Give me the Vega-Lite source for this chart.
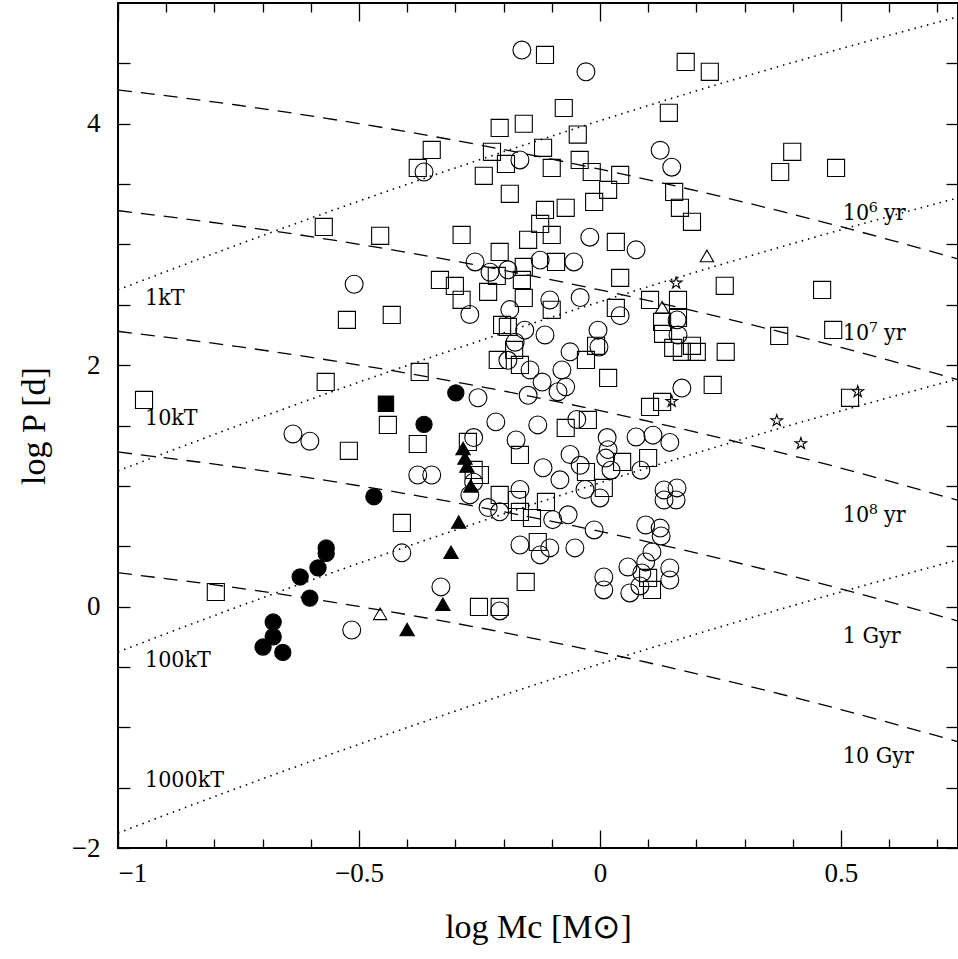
{
  "$schema": "https://vega.github.io/schema/vega-lite/v6.json",
  "width": 840,
  "height": 845,
  "autosize": "none",
  "padding": {"left": 118, "top": 3, "right": 0, "bottom": 111},
  "background": "white",
  "config": {
    "view": {"stroke": "black", "strokeWidth": 2},
    "font": "DejaVu Serif",
    "axis": {"domain": false, "grid": false, "tickColor": "black", "labelColor": "black", "titleColor": "black", "labelFont": "Liberation Serif", "titleFont": "Liberation Serif", "labelFontSize": 27, "titleFontSize": 34, "titleFontWeight": "normal", "tickWidth": 1.3}
  },
  "datasets": {
    "points": [
      {"mc": -0.162, "logp": 4.61, "type": "oc"}, {"mc": -0.029, "logp": 4.43, "type": "oc"}, {"mc": -0.365, "logp": 3.6, "type": "oc"}, {"mc": -0.166, "logp": 3.7, "type": "oc"}, {"mc": 0.125, "logp": 3.78, "type": "oc"}, {"mc": 0.149, "logp": 3.64, "type": "oc"}, {"mc": -0.51, "logp": 2.67, "type": "oc"}, {"mc": -0.259, "logp": 2.855, "type": "oc"}, {"mc": -0.228, "logp": 2.77, "type": "oc"}, {"mc": -0.191, "logp": 2.79, "type": "oc"}, {"mc": -0.124, "logp": 2.87, "type": "oc"}, {"mc": -0.054, "logp": 2.855, "type": "oc"}, {"mc": 0.075, "logp": 2.955, "type": "oc"}, {"mc": -0.021, "logp": 3.06, "type": "oc"}, {"mc": -0.187, "logp": 2.46, "type": "oc"}, {"mc": -0.104, "logp": 2.54, "type": "oc"}, {"mc": -0.041, "logp": 2.56, "type": "oc"}, {"mc": -0.27, "logp": 2.42, "type": "oc"}, {"mc": -0.156, "logp": 2.29, "type": "oc"}, {"mc": -0.114, "logp": 2.25, "type": "oc"}, {"mc": -0.004, "logp": 2.29, "type": "oc"}, {"mc": 0.042, "logp": 2.41, "type": "oc"}, {"mc": 0.16, "logp": 2.375, "type": "oc"}, {"mc": 0.162, "logp": 2.25, "type": "oc"}, {"mc": -0.176, "logp": 2.19, "type": "oc"}, {"mc": -0.191, "logp": 2.04, "type": "oc"}, {"mc": -0.145, "logp": 1.96, "type": "oc"}, {"mc": -0.062, "logp": 2.11, "type": "oc"}, {"mc": -0.002, "logp": 2.15, "type": "oc"}, {"mc": -0.079, "logp": 1.96, "type": "oc"}, {"mc": -0.12, "logp": 1.86, "type": "oc"}, {"mc": -0.253, "logp": 1.73, "type": "oc"}, {"mc": -0.149, "logp": 1.75, "type": "oc"}, {"mc": -0.071, "logp": 1.82, "type": "oc"}, {"mc": -0.087, "logp": 1.78, "type": "oc"}, {"mc": -0.048, "logp": 1.55, "type": "oc"}, {"mc": 0.17, "logp": 1.81, "type": "oc"}, {"mc": -0.637, "logp": 1.43, "type": "oc"}, {"mc": -0.602, "logp": 1.37, "type": "oc"}, {"mc": -0.378, "logp": 1.09, "type": "oc"}, {"mc": -0.349, "logp": 1.09, "type": "oc"}, {"mc": -0.262, "logp": 1.4, "type": "oc"}, {"mc": -0.216, "logp": 1.53, "type": "oc"}, {"mc": -0.174, "logp": 1.38, "type": "oc"}, {"mc": -0.129, "logp": 1.505, "type": "oc"}, {"mc": -0.062, "logp": 1.26, "type": "oc"}, {"mc": -0.041, "logp": 1.17, "type": "oc"}, {"mc": 0.015, "logp": 1.4, "type": "oc"}, {"mc": 0.017, "logp": 1.3, "type": "oc"}, {"mc": 0.012, "logp": 1.23, "type": "oc"}, {"mc": 0.023, "logp": 1.13, "type": "oc"}, {"mc": 0.075, "logp": 1.405, "type": "oc"}, {"mc": 0.11, "logp": 1.42, "type": "oc"}, {"mc": 0.085, "logp": 1.13, "type": "oc"}, {"mc": 0.145, "logp": 1.36, "type": "oc"}, {"mc": -0.118, "logp": 1.15, "type": "oc"}, {"mc": -0.083, "logp": 1.05, "type": "oc"}, {"mc": -0.031, "logp": 0.97, "type": "oc"}, {"mc": 0.0, "logp": 0.9, "type": "oc"}, {"mc": -0.166, "logp": 0.97, "type": "oc"}, {"mc": -0.262, "logp": 1.03, "type": "oc"}, {"mc": -0.27, "logp": 0.925, "type": "oc"}, {"mc": -0.232, "logp": 0.82, "type": "oc"}, {"mc": -0.208, "logp": 0.785, "type": "oc"}, {"mc": -0.098, "logp": 0.72, "type": "oc"}, {"mc": -0.066, "logp": 0.76, "type": "oc"}, {"mc": -0.012, "logp": 0.635, "type": "oc"}, {"mc": -0.166, "logp": 0.51, "type": "oc"}, {"mc": -0.104, "logp": 0.486, "type": "oc"}, {"mc": -0.052, "logp": 0.486, "type": "oc"}, {"mc": 0.095, "logp": 0.676, "type": "oc"}, {"mc": 0.133, "logp": 0.966, "type": "oc"}, {"mc": 0.16, "logp": 0.983, "type": "oc"}, {"mc": 0.133, "logp": 0.883, "type": "oc"}, {"mc": 0.158, "logp": 0.883, "type": "oc"}, {"mc": 0.125, "logp": 0.65, "type": "oc"}, {"mc": 0.127, "logp": 0.585, "type": "oc"}, {"mc": -0.411, "logp": 0.445, "type": "oc"}, {"mc": -0.33, "logp": 0.163, "type": "oc"}, {"mc": -0.515, "logp": -0.194, "type": "oc"}, {"mc": -0.208, "logp": -0.036, "type": "oc"}, {"mc": 0.008, "logp": 0.245, "type": "oc"}, {"mc": 0.008, "logp": 0.138, "type": "oc"}, {"mc": 0.058, "logp": 0.328, "type": "oc"}, {"mc": 0.083, "logp": 0.171, "type": "oc"}, {"mc": 0.087, "logp": 0.279, "type": "oc"}, {"mc": 0.095, "logp": 0.37, "type": "oc"}, {"mc": 0.108, "logp": 0.453, "type": "oc"}, {"mc": 0.062, "logp": 0.113, "type": "oc"}, {"mc": 0.145, "logp": 0.32, "type": "oc"}, {"mc": 0.145, "logp": 0.22, "type": "oc"}, {"mc": -0.124, "logp": 0.428, "type": "oc"},
      {"mc": 0.178, "logp": 4.512, "type": "os"}, {"mc": -0.114, "logp": 4.57, "type": "os"}, {"mc": 0.228, "logp": 4.43, "type": "os"}, {"mc": -0.075, "logp": 4.13, "type": "os"}, {"mc": -0.046, "logp": 3.91, "type": "os"}, {"mc": 0.143, "logp": 4.09, "type": "os"}, {"mc": -0.158, "logp": 4.0, "type": "os"}, {"mc": -0.208, "logp": 3.965, "type": "os"}, {"mc": -0.349, "logp": 3.783, "type": "os"}, {"mc": -0.378, "logp": 3.634, "type": "os"}, {"mc": -0.224, "logp": 3.767, "type": "os"}, {"mc": -0.195, "logp": 3.667, "type": "os"}, {"mc": -0.118, "logp": 3.8, "type": "os"}, {"mc": -0.042, "logp": 3.7, "type": "os"}, {"mc": -0.1, "logp": 3.634, "type": "os"}, {"mc": -0.017, "logp": 3.6, "type": "os"}, {"mc": 0.042, "logp": 3.576, "type": "os"}, {"mc": -0.241, "logp": 3.568, "type": "os"}, {"mc": 0.017, "logp": 3.452, "type": "os"}, {"mc": -0.187, "logp": 3.419, "type": "os"}, {"mc": -0.012, "logp": 3.352, "type": "os"}, {"mc": -0.114, "logp": 3.286, "type": "os"}, {"mc": -0.071, "logp": 3.303, "type": "os"}, {"mc": -0.124, "logp": 3.17, "type": "os"}, {"mc": 0.154, "logp": 3.435, "type": "os"}, {"mc": 0.166, "logp": 3.303, "type": "os"}, {"mc": 0.191, "logp": 3.187, "type": "os"}, {"mc": 0.033, "logp": 3.021, "type": "os"}, {"mc": -0.149, "logp": 3.038, "type": "os"}, {"mc": -0.1, "logp": 3.079, "type": "os"}, {"mc": -0.287, "logp": 3.079, "type": "os"}, {"mc": -0.573, "logp": 3.145, "type": "os"}, {"mc": -0.456, "logp": 3.071, "type": "os"}, {"mc": -0.208, "logp": 2.938, "type": "os"}, {"mc": -0.158, "logp": 2.814, "type": "os"}, {"mc": -0.162, "logp": 2.706, "type": "os"}, {"mc": -0.158, "logp": 2.557, "type": "os"}, {"mc": 0.042, "logp": 2.723, "type": "os"}, {"mc": -0.214, "logp": 2.739, "type": "os"}, {"mc": -0.332, "logp": 2.706, "type": "os"}, {"mc": -0.301, "logp": 2.656, "type": "os"}, {"mc": -0.287, "logp": 2.541, "type": "os"}, {"mc": -0.525, "logp": 2.375, "type": "os"}, {"mc": -0.432, "logp": 2.416, "type": "os"}, {"mc": -0.232, "logp": 2.607, "type": "os"}, {"mc": -0.1, "logp": 2.458, "type": "os"}, {"mc": 0.033, "logp": 2.474, "type": "os"}, {"mc": 0.129, "logp": 2.358, "type": "os"}, {"mc": 0.104, "logp": 2.54, "type": "os"}, {"mc": 0.162, "logp": 2.54, "type": "os"}, {"mc": 0.162, "logp": 2.391, "type": "os"}, {"mc": 0.131, "logp": 2.259, "type": "os"}, {"mc": 0.152, "logp": 2.143, "type": "os"}, {"mc": 0.17, "logp": 2.11, "type": "os"}, {"mc": 0.191, "logp": 2.16, "type": "os"}, {"mc": 0.201, "logp": 2.11, "type": "os"}, {"mc": 0.261, "logp": 2.11, "type": "os"}, {"mc": 0.234, "logp": 1.836, "type": "os"}, {"mc": -0.203, "logp": 2.333, "type": "os"}, {"mc": -0.191, "logp": 2.317, "type": "os"}, {"mc": -0.212, "logp": 2.043, "type": "os"}, {"mc": -0.178, "logp": 2.126, "type": "os"}, {"mc": -0.166, "logp": 2.002, "type": "os"}, {"mc": -0.029, "logp": 2.043, "type": "os"}, {"mc": -0.025, "logp": 1.546, "type": "os"}, {"mc": 0.017, "logp": 1.894, "type": "os"}, {"mc": 0.104, "logp": 1.654, "type": "os"}, {"mc": 0.129, "logp": 1.695, "type": "os"}, {"mc": -0.569, "logp": 1.861, "type": "os"}, {"mc": -0.44, "logp": 1.505, "type": "os"}, {"mc": -0.378, "logp": 1.347, "type": "os"}, {"mc": -0.374, "logp": 1.944, "type": "os"}, {"mc": -0.274, "logp": 1.364, "type": "os"}, {"mc": -0.262, "logp": 1.132, "type": "os"}, {"mc": -0.249, "logp": 1.09, "type": "os"}, {"mc": -0.208, "logp": 0.925, "type": "os"}, {"mc": -0.172, "logp": 0.883, "type": "os"}, {"mc": -0.166, "logp": 0.784, "type": "os"}, {"mc": -0.141, "logp": 0.734, "type": "os"}, {"mc": -0.112, "logp": 0.867, "type": "os"}, {"mc": 0.008, "logp": 0.983, "type": "os"}, {"mc": 0.046, "logp": 1.198, "type": "os"}, {"mc": 0.1, "logp": 1.231, "type": "os"}, {"mc": -0.521, "logp": 1.29, "type": "os"}, {"mc": -0.411, "logp": 0.693, "type": "os"}, {"mc": -0.129, "logp": 0.535, "type": "os"}, {"mc": -0.154, "logp": 0.204, "type": "os"}, {"mc": -0.251, "logp": -0.003, "type": "os"}, {"mc": -0.208, "logp": -0.003, "type": "os"}, {"mc": 0.1, "logp": 0.237, "type": "os"}, {"mc": 0.108, "logp": 0.138, "type": "os"}, {"mc": -0.797, "logp": 0.121, "type": "os"}, {"mc": -0.946, "logp": 1.712, "type": "os"}, {"mc": -0.008, "logp": 2.16, "type": "os"}, {"mc": -0.091, "logp": 2.855, "type": "os"}, {"mc": -0.071, "logp": 1.48, "type": "os"}, {"mc": -0.029, "logp": 1.115, "type": "os"}, {"mc": -0.166, "logp": 1.256, "type": "os"}, {"mc": 0.374, "logp": 3.6, "type": "os"}, {"mc": 0.399, "logp": 3.767, "type": "os"}, {"mc": 0.49, "logp": 3.634, "type": "os"}, {"mc": 0.461, "logp": 2.623, "type": "os"}, {"mc": 0.484, "logp": 2.292, "type": "os"}, {"mc": 0.372, "logp": 2.242, "type": "os"}, {"mc": 0.259, "logp": 2.657, "type": "os"}, {"mc": 0.519, "logp": 1.729, "type": "os"},
      {"mc": -0.699, "logp": -0.335, "type": "fc"}, {"mc": -0.678, "logp": -0.128, "type": "fc"}, {"mc": -0.678, "logp": -0.25, "type": "fc"}, {"mc": -0.658, "logp": -0.38, "type": "fc"}, {"mc": -0.622, "logp": 0.245, "type": "fc"}, {"mc": -0.602, "logp": 0.07, "type": "fc"}, {"mc": -0.585, "logp": 0.32, "type": "fc"}, {"mc": -0.568, "logp": 0.485, "type": "fc"}, {"mc": -0.568, "logp": 0.44, "type": "fc"}, {"mc": -0.469, "logp": 0.91, "type": "fc"}, {"mc": -0.365, "logp": 1.51, "type": "fc"}, {"mc": -0.299, "logp": 1.77, "type": "fc"},
      {"mc": -0.444, "logp": 1.68, "type": "fs"},
      {"mc": -0.4, "logp": -0.19, "type": "ft"}, {"mc": -0.326, "logp": 0.02, "type": "ft"}, {"mc": -0.309, "logp": 0.45, "type": "ft"}, {"mc": -0.293, "logp": 0.7, "type": "ft"}, {"mc": -0.268, "logp": 1.0, "type": "ft"}, {"mc": -0.276, "logp": 1.165, "type": "ft"}, {"mc": -0.284, "logp": 1.31, "type": "ft"}, {"mc": -0.28, "logp": 1.23, "type": "ft"},
      {"mc": -0.456, "logp": -0.06, "type": "ot"}, {"mc": 0.222, "logp": 2.905, "type": "ot"}, {"mc": 0.129, "logp": 2.48, "type": "ot"},
      {"mc": 0.158, "logp": 2.68, "type": "st"}, {"mc": 0.149, "logp": 1.7, "type": "st"}, {"mc": 0.367, "logp": 1.54, "type": "st"}, {"mc": 0.417, "logp": 1.35, "type": "st"}, {"mc": 0.535, "logp": 1.78, "type": "st"}
    ],
    "dashed": [
      {"id": "a", "x": -1, "y": 4.28}, {"id": "a", "x": -0.75, "y": 4.153}, {"id": "a", "x": -0.5, "y": 4.001}, {"id": "a", "x": -0.25, "y": 3.824}, {"id": "a", "x": 0, "y": 3.623}, {"id": "a", "x": 0.25, "y": 3.397}, {"id": "a", "x": 0.5, "y": 3.147}, {"id": "a", "x": 0.743, "y": 2.88},
      {"id": "b", "x": -1, "y": 3.28}, {"id": "b", "x": -0.75, "y": 3.153}, {"id": "b", "x": -0.5, "y": 3.001}, {"id": "b", "x": -0.25, "y": 2.824}, {"id": "b", "x": 0, "y": 2.623}, {"id": "b", "x": 0.25, "y": 2.397}, {"id": "b", "x": 0.5, "y": 2.147}, {"id": "b", "x": 0.743, "y": 1.88},
      {"id": "c", "x": -1, "y": 2.28}, {"id": "c", "x": -0.75, "y": 2.153}, {"id": "c", "x": -0.5, "y": 2.001}, {"id": "c", "x": -0.25, "y": 1.824}, {"id": "c", "x": 0, "y": 1.623}, {"id": "c", "x": 0.25, "y": 1.397}, {"id": "c", "x": 0.5, "y": 1.147}, {"id": "c", "x": 0.743, "y": 0.88},
      {"id": "d", "x": -1, "y": 1.28}, {"id": "d", "x": -0.75, "y": 1.153}, {"id": "d", "x": -0.5, "y": 1.001}, {"id": "d", "x": -0.25, "y": 0.824}, {"id": "d", "x": 0, "y": 0.623}, {"id": "d", "x": 0.25, "y": 0.397}, {"id": "d", "x": 0.5, "y": 0.147}, {"id": "d", "x": 0.743, "y": -0.12},
      {"id": "e", "x": -1, "y": 0.28}, {"id": "e", "x": -0.75, "y": 0.153}, {"id": "e", "x": -0.5, "y": 0.001}, {"id": "e", "x": -0.25, "y": -0.176}, {"id": "e", "x": 0, "y": -0.377}, {"id": "e", "x": 0.25, "y": -0.603}, {"id": "e", "x": 0.5, "y": -0.853}, {"id": "e", "x": 0.743, "y": -1.12}
    ],
    "dotted": [
      {"id": "a", "x": -1, "y": 2.624}, {"id": "a", "x": -0.75, "y": 3.0}, {"id": "a", "x": -0.5, "y": 3.359}, {"id": "a", "x": -0.25, "y": 3.701}, {"id": "a", "x": 0, "y": 4.025}, {"id": "a", "x": 0.25, "y": 4.332}, {"id": "a", "x": 0.5, "y": 4.621}, {"id": "a", "x": 0.743, "y": 4.886},
      {"id": "b", "x": -1, "y": 1.124}, {"id": "b", "x": -0.75, "y": 1.5}, {"id": "b", "x": -0.5, "y": 1.859}, {"id": "b", "x": -0.25, "y": 2.201}, {"id": "b", "x": 0, "y": 2.525}, {"id": "b", "x": 0.25, "y": 2.832}, {"id": "b", "x": 0.5, "y": 3.121}, {"id": "b", "x": 0.743, "y": 3.386},
      {"id": "c", "x": -1, "y": -0.376}, {"id": "c", "x": -0.75, "y": 0.0}, {"id": "c", "x": -0.5, "y": 0.359}, {"id": "c", "x": -0.25, "y": 0.701}, {"id": "c", "x": 0, "y": 1.025}, {"id": "c", "x": 0.25, "y": 1.332}, {"id": "c", "x": 0.5, "y": 1.621}, {"id": "c", "x": 0.743, "y": 1.886},
      {"id": "d", "x": -1, "y": -1.876}, {"id": "d", "x": -0.75, "y": -1.5}, {"id": "d", "x": -0.5, "y": -1.141}, {"id": "d", "x": -0.25, "y": -0.799}, {"id": "d", "x": 0, "y": -0.475}, {"id": "d", "x": 0.25, "y": -0.168}, {"id": "d", "x": 0.5, "y": 0.121}, {"id": "d", "x": 0.743, "y": 0.386}
    ],
    "labels": [
      {"x": -0.944, "y": 2.56, "text": "1kT"}, {"x": -0.944, "y": 1.56, "text": "10kT"}, {"x": -0.944, "y": -0.44, "text": "100kT"}, {"x": -0.944, "y": -1.44, "text": "1000kT"},
      {"x": 0.504, "y": 3.26, "text": "10⁶ yr"}, {"x": 0.504, "y": 2.27, "text": "10⁷ yr"}, {"x": 0.504, "y": 0.76, "text": "10⁸ yr"}, {"x": 0.504, "y": -0.24, "text": "1 Gyr"}, {"x": 0.504, "y": -1.24, "text": "10 Gyr"}
    ]
  },
  "layer": [
    {
      "data": {"name": "dashed"},
      "mark": {"type": "line", "color": "black", "strokeWidth": 1.3, "strokeDash": [14, 9], "interpolate": "monotone", "clip": true},
      "encoding": {
        "x": {"field": "x", "type": "quantitative", "scale": {"domain": [-1, 0.743], "nice": false, "zero": false},
          "axis": {"orient": "top", "offset": -845, "values": [-1, -0.5, 0, 0.5], "tickSize": 18, "labels": false, "title": null}},
        "y": {"field": "y", "type": "quantitative", "scale": {"domain": [-2, 5], "nice": false, "zero": false},
          "axis": {"orient": "right", "offset": -840, "values": [-2, -1.5, -1, -0.5, 0, 0.5, 1, 1.5, 2, 2.5, 3, 3.5, 4, 4.5], "tickSize": 12, "labels": false, "title": null}},
        "detail": {"field": "id"}
      }
    },
    {
      "data": {"name": "dotted"},
      "mark": {"type": "line", "color": "black", "strokeWidth": 1.6, "strokeDash": [1.5, 5], "interpolate": "monotone", "clip": true},
      "encoding": {
        "x": {"field": "x", "type": "quantitative", "scale": {"domain": [-1, 0.743], "nice": false, "zero": false},
          "axis": {"orient": "bottom", "offset": -845, "values": [-1, -0.5, 0, 0.5], "tickSize": 18, "labels": false, "title": null}},
        "y": {"field": "y", "type": "quantitative", "scale": {"domain": [-2, 5], "nice": false, "zero": false},
          "axis": {"orient": "left", "offset": -840, "values": [-2, -1.5, -1, -0.5, 0, 0.5, 1, 1.5, 2, 2.5, 3, 3.5, 4, 4.5], "tickSize": 12, "labels": false, "title": null}},
        "detail": {"field": "id"}
      }
    },
    {
      "data": {"name": "labels"},
      "mark": {"type": "text", "align": "left", "baseline": "middle", "fontSize": 23, "font": "DejaVu Serif Condensed", "color": "black"},
      "encoding": {
        "x": {"field": "x", "type": "quantitative", "scale": {"domain": [-1, 0.743], "nice": false, "zero": false},
          "axis": {"orient": "top", "offset": -845, "values": [-0.9, -0.8, -0.7, -0.6, -0.4, -0.3, -0.2, -0.1, 0.1, 0.2, 0.3, 0.4, 0.6, 0.7], "tickSize": 9, "labels": false, "title": null}},
        "y": {"field": "y", "type": "quantitative", "scale": {"domain": [-2, 5], "nice": false, "zero": false}, "axis": null},
        "text": {"field": "text"}
      }
    },
    {
      "data": {"name": "labels"},
      "mark": {"type": "point", "opacity": 0},
      "encoding": {
        "x": {"field": "x", "type": "quantitative", "scale": {"domain": [-1, 0.743], "nice": false, "zero": false},
          "axis": {"orient": "bottom", "offset": -845, "values": [-0.9, -0.8, -0.7, -0.6, -0.4, -0.3, -0.2, -0.1, 0.1, 0.2, 0.3, 0.4, 0.6, 0.7], "tickSize": 9, "labels": false, "title": null}},
        "y": {"field": "y", "type": "quantitative", "scale": {"domain": [-2, 5], "nice": false, "zero": false}, "axis": null}
      }
    },
    {
      "data": {"name": "points"},
      "mark": {"type": "point", "stroke": "black", "strokeWidth": 1.1, "opacity": 1},
      "encoding": {
        "x": {"field": "mc", "type": "quantitative", "scale": {"domain": [-1, 0.743], "nice": false, "zero": false},
          "axis": {"orient": "bottom", "values": [-1, -0.5, 0, 0.5], "ticks": false, "labelPadding": 12, "format": "~g", "title": "log Mc [M⊙]", "titlePadding": 24}},
        "y": {"field": "logp", "type": "quantitative", "scale": {"domain": [-2, 5], "nice": false, "zero": false},
          "axis": {"orient": "left", "values": [-2, 0, 2, 4], "ticks": false, "labelPadding": 18, "format": "~g", "title": "log P [d]", "titlePadding": 20}},
        "shape": {"field": "type", "type": "nominal", "legend": null, "scale": {"domain": ["oc", "os", "fc", "fs", "ft", "ot", "st"], "range": ["circle", "square", "circle", "square", "triangle-up", "triangle-up", "M0,-1L0.2245,-0.309L0.951,-0.309L0.363,0.118L0.588,0.809L0,0.382L-0.588,0.809L-0.363,0.118L-0.951,-0.309L-0.2245,-0.309Z"]}},
        "fill": {"field": "type", "type": "nominal", "legend": null, "scale": {"domain": ["oc", "os", "fc", "fs", "ft", "ot", "st"], "range": ["transparent", "transparent", "black", "black", "black", "transparent", "transparent"]}},
        "size": {"field": "type", "type": "nominal", "legend": null, "scale": {"domain": ["oc", "os", "fc", "fs", "ft", "ot", "st"], "range": [320, 150, 320, 140, 200, 200, 330]}}
      }
    }
  ],
  "resolve": {"axis": {"x": "independent", "y": "independent"}}
}
